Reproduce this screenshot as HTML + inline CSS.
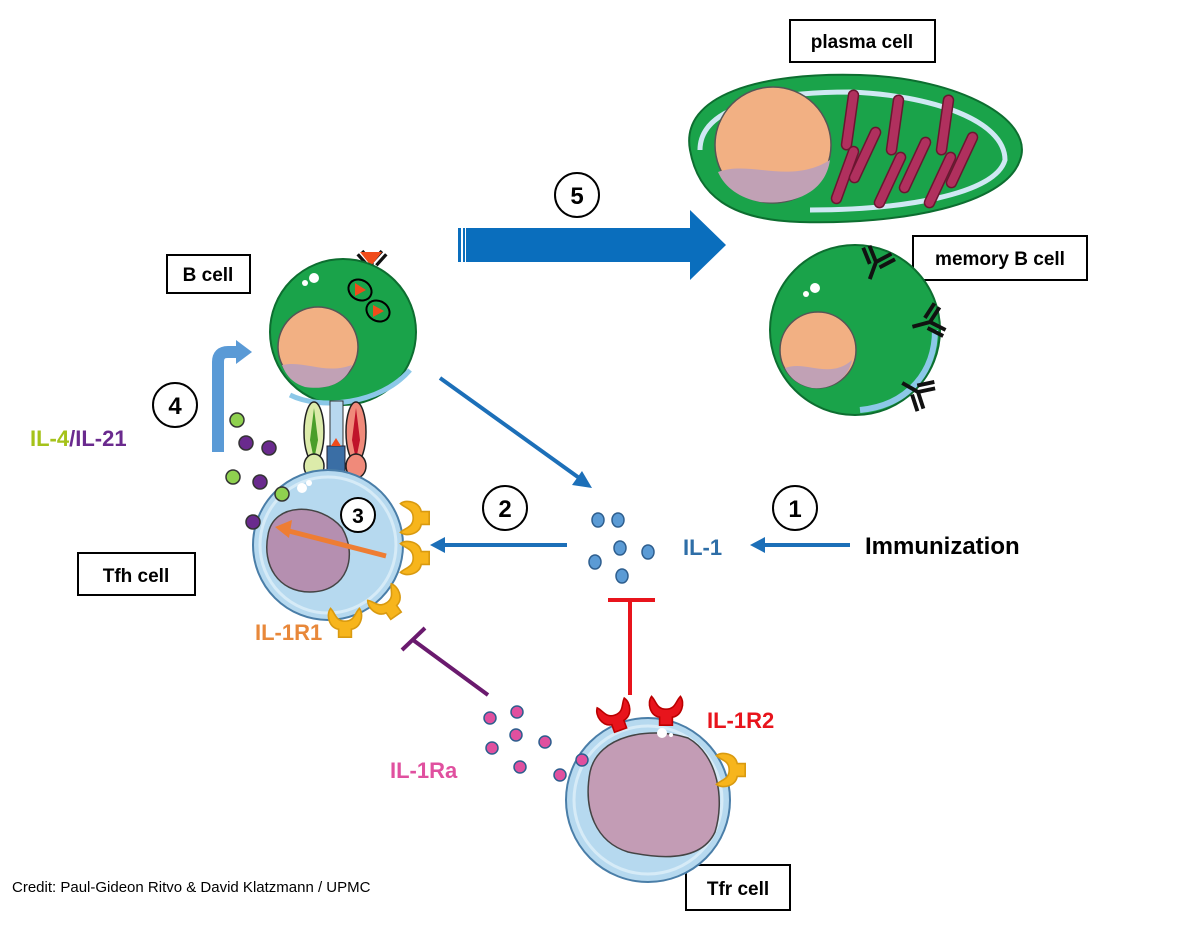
<!DOCTYPE html>
<html><head><meta charset="utf-8"><style>
html,body{margin:0;padding:0;background:#fff;}
svg{display:block;}
text{font-family:"Liberation Sans",sans-serif;}
</style></head><body>
<svg width="1200" height="929" viewBox="0 0 1200 929" xmlns="http://www.w3.org/2000/svg">
<defs>
<g id="rec"><path d="M-9,-6 C-12,-2 -10,6 -4,7 L-4,12 L4,12 L4,7 C10,6 12,-2 9,-6 C6,-3 6,2 0,2 C-6,2 -6,-3 -9,-6Z" fill="#f7b51c" stroke="#d99a10" stroke-width="1" transform="scale(1.6)"/></g>
<g id="rec2"><path d="M-9,-6 C-12,-2 -10,6 -4,7 L-4,12 L4,12 L4,7 C10,6 12,-2 9,-6 C6,-3 6,2 0,2 C-6,2 -6,-3 -9,-6Z" fill="#e8141c" stroke="#b00" stroke-width="1" transform="scale(1.6)"/></g>
<g id="ab" fill="none" stroke="#111" stroke-width="3"><path d="M0,0 L0,14 M0,0 L-9,-10 M0,0 L9,-10 M-4,3 L-13,-7 M4,3 L13,-7"/></g>
<g id="mito" fill="#b0305e" stroke="#6b1530" stroke-width="1.5"><rect x="-5" y="-30" width="10" height="60" rx="5"/></g>
</defs>

<g fill="#fff" stroke="#000" stroke-width="2">
<rect x="790" y="20" width="145" height="42"/>
<rect x="913" y="236" width="174" height="44"/>
<rect x="167" y="255" width="83" height="38"/>
<rect x="78" y="553" width="117" height="42"/>
<rect x="686" y="865" width="104" height="45"/>
</g>
<g font-weight="bold" font-size="19" fill="#000">
<text x="862" y="48" text-anchor="middle">plasma cell</text>
<text x="1000" y="265" text-anchor="middle">memory B cell</text>
<text x="208" y="281" text-anchor="middle">B cell</text>
<text x="136" y="582" text-anchor="middle">Tfh cell</text>
<text x="738" y="895" text-anchor="middle">Tfr cell</text>
</g>

<!-- plasma cell -->
<path d="M690,150 C680,95 760,72 860,75 C960,78 1035,120 1020,160 C1005,205 900,225 800,222 C730,220 698,195 690,150Z" fill="#1aa34a" stroke="#0d6e30" stroke-width="2"/>
<path d="M700,150 C700,110 760,92 850,92 C930,95 1005,120 1005,160 C995,195 900,210 810,210" fill="none" stroke="#cfe8f3" stroke-width="5"/>
<circle cx="773" cy="145" r="58" fill="#f2b083" stroke="#555" stroke-width="1.5"/>
<path d="M718,172 C750,160 790,185 830,160 C825,195 790,205 760,202 C740,198 725,188 718,172Z" fill="#c1a1b5"/>
<g>
<use href="#mito" transform="translate(850,120) rotate(8)"/><use href="#mito" transform="translate(845,175) rotate(20)"/><use href="#mito" transform="translate(865,155) rotate(25)"/>
<use href="#mito" transform="translate(895,125) rotate(8)"/><use href="#mito" transform="translate(890,180) rotate(25)"/><use href="#mito" transform="translate(915,165) rotate(25)"/>
<use href="#mito" transform="translate(945,125) rotate(8)"/><use href="#mito" transform="translate(940,180) rotate(25)"/><use href="#mito" transform="translate(962,160) rotate(25)"/>
</g>

<!-- memory B cell -->
<circle cx="855" cy="330" r="85" fill="#1aa34a" stroke="#0d6e30" stroke-width="2"/>
<path d="M860,410 C910,405 935,370 935,330" fill="none" stroke="#8cc8e8" stroke-width="6"/>
<circle cx="818" cy="350" r="38" fill="#f2b083" stroke="#555" stroke-width="1.5"/>
<path d="M785,368 C805,360 830,380 852,360 C848,380 830,390 812,388 C798,385 790,378 785,368Z" fill="#c1a1b5"/>
<circle cx="815" cy="288" r="5" fill="#fff"/><circle cx="806" cy="294" r="3" fill="#fff"/>
<use href="#ab" transform="translate(876,262) rotate(20) scale(1.3)"/>
<use href="#ab" transform="translate(930,322) rotate(75) scale(1.3)"/>
<use href="#ab" transform="translate(918,392) rotate(120) scale(1.3)"/>

<!-- arrow 5 -->
<path d="M466,228 L690,228 L690,210 L726,245 L690,280 L690,262 L466,262Z" fill="#0a6ebd"/>
<rect x="458" y="228" width="3" height="34" fill="#0a6ebd"/><rect x="463" y="228" width="2" height="34" fill="#0a6ebd"/>
<circle cx="577" cy="195" r="22" fill="#fff" stroke="#000" stroke-width="2"/>
<text x="577" y="204" text-anchor="middle" font-size="24" font-weight="bold">5</text>

<!-- B cell -->
<use href="#ab" transform="translate(372,262) scale(1.1)"/>
<path d="M360,252 L382,252 L371,266Z" fill="#f04b1a"/>
<circle cx="343" cy="332" r="73" fill="#1aa34a" stroke="#0d6e30" stroke-width="2"/>
<path d="M290,395 C320,410 380,405 410,370" fill="none" stroke="#8cc8e8" stroke-width="5"/>
<circle cx="318" cy="347" r="40" fill="#f2b083" stroke="#555" stroke-width="1.5"/>
<path d="M282,365 C305,360 325,375 352,365 C345,385 325,390 305,387 C292,383 286,375 282,365Z" fill="#c1a1b5"/>
<circle cx="314" cy="278" r="5" fill="#fff"/><circle cx="305" cy="283" r="3" fill="#fff"/>
<ellipse cx="360" cy="290" rx="12" ry="10" fill="#1aa34a" stroke="#000" stroke-width="2" transform="rotate(30 360 290)"/>
<ellipse cx="378" cy="311" rx="12" ry="10" fill="#1aa34a" stroke="#000" stroke-width="2" transform="rotate(30 378 311)"/>
<path d="M355,283 L366,290 L355,296Z" fill="#f04b1a"/><path d="M373,305 L384,311 L373,317Z" fill="#f04b1a"/>

<!-- synapse molecules -->
<ellipse cx="314" cy="432" rx="10" ry="30" fill="#dcebaa" stroke="#222" stroke-width="1.5"/>
<path d="M314,408 L318,440 L314,460 L310,440Z" fill="#4a9e2a"/>
<ellipse cx="314" cy="466" rx="10" ry="12" fill="#dcebaa" stroke="#222" stroke-width="1.5"/>
<rect x="330" y="401" width="13" height="45" fill="#b8d8ef" stroke="#333"/>
<rect x="327" y="446" width="18" height="30" fill="#3a6ea5" stroke="#223"/>
<path d="M331,446 L336,438 L341,446Z" fill="#f04b1a"/>
<ellipse cx="356" cy="432" rx="10" ry="30" fill="#f08a7a" stroke="#222" stroke-width="1.5"/>
<path d="M356,408 L360,440 L356,460 L352,440Z" fill="#c0122a"/>
<ellipse cx="356" cy="466" rx="10" ry="12" fill="#f08a7a" stroke="#222" stroke-width="1.5"/>

<!-- Tfh cell -->
<circle cx="328" cy="545" r="75" fill="#b6d9ef" stroke="#4a7ea8" stroke-width="2"/>
<circle cx="328" cy="545" r="68" fill="none" stroke="#d6ebf7" stroke-width="3"/>
<path d="M268,535 C273,502 320,502 342,528 C358,555 348,592 310,592 C278,592 262,565 268,535Z" fill="#b58fb0" stroke="#444" stroke-width="1.5"/>
<circle cx="302" cy="488" r="5" fill="#fff"/><circle cx="309" cy="483" r="3" fill="#fff"/>
<path d="M386,556 L285,530" stroke="#ee7d33" stroke-width="5"/>
<path d="M275,527 L292,520 L289,538Z" fill="#ee7d33"/>
<circle cx="358" cy="515" r="17" fill="#fff" stroke="#000" stroke-width="2"/>
<text x="358" y="523" text-anchor="middle" font-size="21" font-weight="bold">3</text>
<use href="#rec" transform="translate(410,518) rotate(-90)"/>
<use href="#rec" transform="translate(410,558) rotate(-90)"/>
<use href="#rec" transform="translate(385,600) rotate(-35)"/>
<use href="#rec" transform="translate(345,618) rotate(0)"/>

<!-- IL-4/IL-21 dots -->
<g stroke="#333" stroke-width="1.5">
<circle cx="237" cy="420" r="7" fill="#8fd14f"/><circle cx="246" cy="443" r="7" fill="#6a2a8e"/>
<circle cx="269" cy="448" r="7" fill="#6a2a8e"/><circle cx="233" cy="477" r="7" fill="#8fd14f"/>
<circle cx="260" cy="482" r="7" fill="#6a2a8e"/><circle cx="282" cy="494" r="7" fill="#8fd14f"/>
<circle cx="253" cy="522" r="7" fill="#6a2a8e"/>
</g>

<!-- arrow 4 -->
<path d="M218,452 L218,362 Q218,352 228,352 L238,352" fill="none" stroke="#5a9ad6" stroke-width="12"/>
<path d="M236,340 L252,352 L236,364Z" fill="#5a9ad6"/>
<circle cx="175" cy="405" r="22" fill="#fff" stroke="#000" stroke-width="2"/>
<text x="175" y="414" text-anchor="middle" font-size="24" font-weight="bold">4</text>
<text x="30" y="446" font-size="22" font-weight="bold"><tspan fill="#a5c21a">IL-4</tspan><tspan fill="#6a2a8e">/IL-21</tspan></text>

<!-- diagonal arrow -->
<path d="M440,378 L582,480" stroke="#1c6fb8" stroke-width="4"/>
<path d="M592,488 L572,485 L582,471Z" fill="#1c6fb8"/>

<!-- arrow 2 -->
<path d="M567,545 L442,545" stroke="#1c6fb8" stroke-width="4"/>
<path d="M430,545 L445,537 L445,553Z" fill="#1c6fb8"/>
<circle cx="505" cy="508" r="22" fill="#fff" stroke="#000" stroke-width="2"/>
<text x="505" y="517" text-anchor="middle" font-size="24" font-weight="bold">2</text>

<!-- IL-1 dots -->
<g fill="#5b9bd5" stroke="#2e5e8e" stroke-width="1.5">
<ellipse cx="598" cy="520" rx="6" ry="7"/><ellipse cx="618" cy="520" rx="6" ry="7"/>
<ellipse cx="595" cy="562" rx="6" ry="7"/><ellipse cx="620" cy="548" rx="6" ry="7"/>
<ellipse cx="648" cy="552" rx="6" ry="7"/><ellipse cx="622" cy="576" rx="6" ry="7"/>
</g>
<text x="683" y="555" font-size="22" font-weight="bold" fill="#2e6ea7">IL-1</text>

<!-- arrow 1 -->
<path d="M850,545 L762,545" stroke="#1c6fb8" stroke-width="4"/>
<path d="M750,545 L765,537 L765,553Z" fill="#1c6fb8"/>
<circle cx="795" cy="508" r="22" fill="#fff" stroke="#000" stroke-width="2"/>
<text x="795" y="517" text-anchor="middle" font-size="24" font-weight="bold">1</text>
<text x="865" y="554" font-size="24" font-weight="bold" fill="#000">Immunization</text>

<path d="M630,695 L630,600 M608,600 L655,600" stroke="#e8141c" stroke-width="4"/>
<path d="M488,695 L413,640 M402,650 L425,628" stroke="#6a1a6e" stroke-width="4"/>

<text x="255" y="640" font-size="22" font-weight="bold" fill="#e8883a">IL-1R1</text>
<text x="390" y="778" font-size="22" font-weight="bold" fill="#e0509f">IL-1Ra</text>
<text x="707" y="728" font-size="22" font-weight="bold" fill="#e8141c">IL-1R2</text>

<g fill="#e0509f" stroke="#2e5e8e" stroke-width="1.5">
<circle cx="490" cy="718" r="6"/><circle cx="517" cy="712" r="6"/>
<circle cx="492" cy="748" r="6"/><circle cx="516" cy="735" r="6"/>
<circle cx="545" cy="742" r="6"/><circle cx="520" cy="767" r="6"/>
<circle cx="560" cy="775" r="6"/>
</g>

<!-- Tfr cell -->
<circle cx="648" cy="800" r="82" fill="#b6d9ef" stroke="#4a7ea8" stroke-width="2"/>
<circle cx="648" cy="800" r="74" fill="none" stroke="#d6ebf7" stroke-width="3"/>
<path d="M590,772 C598,735 650,726 688,738 C718,755 725,800 715,832 C702,860 665,860 628,852 C596,842 583,810 590,772Z" fill="#c39cb5" stroke="#444" stroke-width="1.5"/>
<circle cx="662" cy="733" r="5" fill="#fff"/><circle cx="671" cy="735" r="2" fill="#fff"/>
<circle cx="582" cy="760" r="6" fill="#e0509f" stroke="#2e5e8e" stroke-width="1.5"/>
<use href="#rec2" transform="translate(614,712) rotate(-20)"/>
<use href="#rec2" transform="translate(666,706) rotate(0)"/>
<use href="#rec" transform="translate(726,770) rotate(-90)"/>

<text x="12" y="892" font-size="15" fill="#000">Credit: Paul-Gideon Ritvo &amp; David Klatzmann / UPMC</text>
</svg>
</body></html>
